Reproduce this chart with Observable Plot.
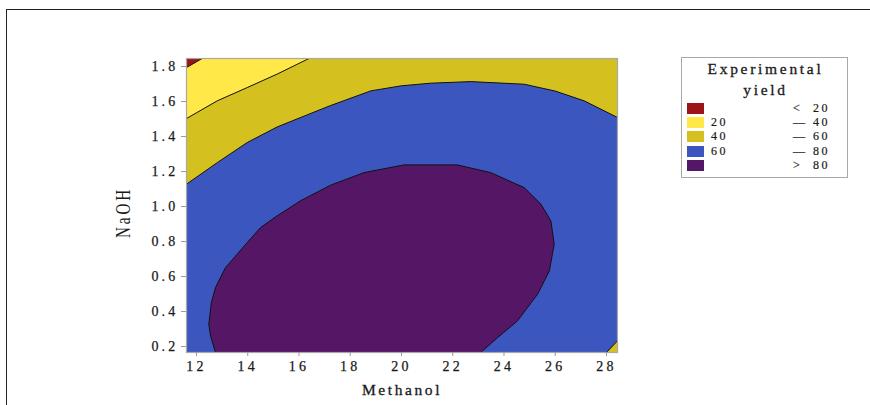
<!DOCTYPE html>
<html>
<head>
<meta charset="utf-8">
<script src="https://cdn.jsdelivr.net/npm/d3@7"></script>
<script src="https://cdn.jsdelivr.net/npm/@observablehq/plot@0.6"></script>
<style>
  html, body { margin: 0; padding: 0; background: #fff; }
  #wrap { position: relative; width: 870px; height: 405px; overflow: hidden; font-family: "Liberation Serif", serif; color: #1a1a1a; }
  #border { position: absolute; left: 6px; top: 9px; width: 900px; height: 500px; border-top: 1.5px solid #222; border-left: 1.5px solid #222; }
  #chart { position: absolute; left: 0; top: 0; }
  #legend { position: absolute; left: 681px; top: 57px; width: 167px; height: 121px; border: 1px solid #a8a8a8; box-sizing: border-box; background: #fff; }
  #legend .title { position: absolute; left: 0; width: 175px; text-align: center; font-size: 15.5px; letter-spacing: 2.7px; -webkit-text-stroke: 0.3px #1a1a1a; }
  #legend .sw { position: absolute; left: 5px; width: 17px; height: 11px; }
  #legend .lab { position: absolute; font-size: 12px; letter-spacing: 2.6px; line-height: 11px; -webkit-text-stroke: 0.2px #1a1a1a; }
</style>
</head>
<body>
<div id="wrap">
  <div id="border"></div>
  <div id="chart"></div>
  <div id="legend"></div>
</div>
<script>
// ---- data ----
const methanolTicks = [12, 14, 16, 18, 20, 22, 24, 26, 28];
const naohTicks = [0.2, 0.4, 0.6, 0.8, 1.0, 1.2, 1.4, 1.6, 1.8];
const methanolRange = [11.61, 28.43];
const naohRange = [0.166, 1.846];

// contour lines [Methanol, NaOH]
const contour20 = [[11.61, 1.794], [12.22, 1.846]];
const contour40 = [[11.61, 1.503], [12.81, 1.604], [13.98, 1.68], [15.15, 1.757], [16.39, 1.846]];
const contour60 = [[11.61, 1.128], [12.81, 1.251], [13.98, 1.366], [15.15, 1.455], [16.39, 1.528], [17.23, 1.577],
  [18.8, 1.661], [20.0, 1.69], [21.14, 1.705], [22.7, 1.714], [24.79, 1.699], [26.0, 1.66], [27.13, 1.604], [28.43, 1.509]];
const contour80 = [[12.74, 0.166], [12.55, 0.26], [12.48, 0.328], [12.58, 0.45], [12.74, 0.537], [13.13, 0.651],
  [13.98, 0.794], [14.5, 0.88], [15.15, 0.947], [16.06, 1.033], [17.23, 1.122], [18.54, 1.194], [20.1, 1.238],
  [22.18, 1.238], [23.48, 1.194], [24.79, 1.108], [25.44, 1.014], [25.83, 0.918], [25.96, 0.785], [25.77, 0.632],
  [25.31, 0.499], [24.53, 0.347], [23.75, 0.251], [23.09, 0.166]];
const contour60b = [[28.0, 0.166], [28.43, 0.233]];

const legendLabels = [["", "<", "20"], ["20", "\u2014", "40"], ["40", "\u2014", "60"], ["60", "\u2014", "80"], ["", ">", "80"]];
const levelColors = ["#9b1518", "#ffe847", "#d4c120", "#3b56bf", "#561666"];
const legendTitle = ["Experimental", "yield"];

// ---- build fill polygons from contour lines and domain corners ----
const [xa, xb] = methanolRange, [ya, yb] = naohRange;
const polyRed = [...contour20, [xa, yb]];
const polyYellow = [...contour40, [xa, yb]];
const polyBlue = [...contour60, [xb, contour60b[1][1]], [contour60b[0][0], ya], [xa, ya]];
const polyPurple = [...contour80];
const X = d => d[0], Y = d => d[1];

const plot = Plot.plot({
  width: 870, height: 405,
  marginLeft: 186, marginRight: 253, marginTop: 58, marginBottom: 53,
  x: { domain: methanolRange },
  y: { domain: naohRange },
  style: { fontFamily: "Liberation Serif, serif", fontSize: "14px", color: "#1a1a1a", background: "transparent" },
  marks: [
    Plot.frame({ fill: levelColors[2], stroke: null }),
    Plot.line(polyYellow, { x: X, y: Y, fill: levelColors[1], stroke: "none", clip: "frame" }),
    Plot.line(polyRed, { x: X, y: Y, fill: levelColors[0], stroke: "none", clip: "frame" }),
    Plot.line(polyBlue, { x: X, y: Y, fill: levelColors[3], stroke: "none", clip: "frame" }),
    Plot.line(polyPurple, { x: X, y: Y, fill: levelColors[4], stroke: "none", clip: "frame" }),
    Plot.line(contour20, { x: X, y: Y, stroke: "#111", strokeWidth: 1, clip: "frame" }),
    Plot.line(contour40, { x: X, y: Y, stroke: "#111", strokeWidth: 1, clip: "frame" }),
    Plot.line(contour60, { x: X, y: Y, stroke: "#111", strokeWidth: 1, clip: "frame" }),
    Plot.line(contour60b, { x: X, y: Y, stroke: "#111", strokeWidth: 1, clip: "frame" }),
    Plot.line(contour80, { x: X, y: Y, stroke: "#111", strokeWidth: 1, clip: "frame" }),
    Plot.frame({ stroke: "#a8a8a8", strokeWidth: 1.2 }),
    Plot.axisX(methanolTicks, { tickSize: 4, tickPadding: 5, stroke: "#999", fill: "#1a1a1a", label: null }),
    Plot.axisY(naohTicks, { tickSize: 5, tickPadding: 3, stroke: "#999", fill: "#1a1a1a", label: null, tickFormat: d => d.toFixed(1) }),
    Plot.text(["Methanol"], { text: d => d, frameAnchor: "bottom", dy: 42, fontSize: 15.5, fill: "#1a1a1a" }),
    Plot.text(["NaOH"], { text: d => d, frameAnchor: "left", textAnchor: "middle", rotate: -90, fontSize: 21, fill: "#1a1a1a" })
  ]
});
document.getElementById("chart").appendChild(plot);

// letter spacing / stretch to mimic the wide serif text of the original
d3.select(plot).selectAll('g[aria-label="x-axis tick label"] text, g[aria-label="y-axis tick label"] text')
  .style("letter-spacing", "3.2px").style("stroke", "#1a1a1a").style("stroke-width", "0.25px");
d3.select(plot).selectAll("text").filter(function () { return this.textContent === "Methanol"; })
  .style("letter-spacing", "2.6px").style("stroke", "#1a1a1a").style("stroke-width", "0.3px");
d3.select(plot).selectAll("text").filter(function () { return this.textContent === "NaOH"; })
  .style("letter-spacing", "4px")
  .attr("x", null).attr("y", null).attr("dy", "0.33em")
  .attr("transform", "translate(123,212) rotate(-90) scale(0.72,1)");

// ---- legend ----
const lg = d3.select("#legend");
legendTitle.forEach((t, i) => {
  lg.append("div").attr("class", "title").style("left", "-4px").style("top", (i === 0 ? 2 : 23) + "px").text(t);
});
legendLabels.forEach((row, i) => {
  const top = 45 + i * 14.2;
  lg.append("div").attr("class", "sw").style("top", top + "px").style("background", levelColors[i]);
  lg.append("div").attr("class", "lab").style("left", "29px").style("top", top + "px").text(row[0]);
  lg.append("div").attr("class", "lab").style("left", "111px").style("top", top + "px").text(row[1]);
  lg.append("div").attr("class", "lab").style("left", "131px").style("top", top + "px").text(row[2]);
});
</script>
</body>
</html>
